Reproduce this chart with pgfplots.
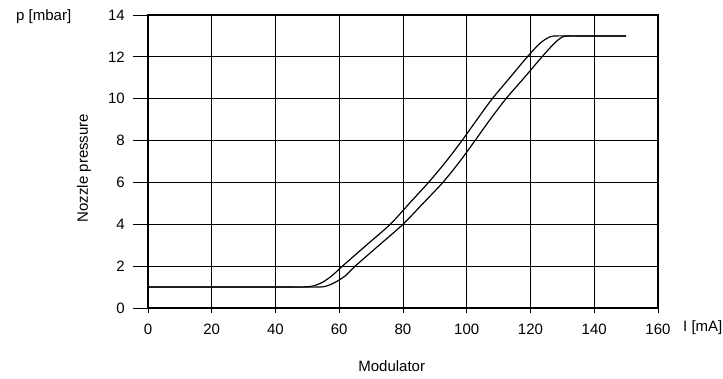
\documentclass[border=0pt]{standalone}
\usepackage{fontspec}
\setmainfont{Liberation Sans}
\usepackage{pgfplots}
\pgfplotsset{compat=1.18}
\begin{document}
\fontsize{15}{18}\selectfont
\begin{tikzpicture}
\path[use as bounding box] (-148pt,-70pt) rectangle (575pt,308pt);
\begin{axis}[
  scale only axis, width=510pt, height=293pt,
  xmin=0, xmax=160, ymin=0, ymax=14,
  xtick={0,20,...,160}, ytick={0,2,...,14},
  grid=major, major grid style={black, line width=0.9pt},
  axis line style={line width=2.6pt},
  tick align=outside, tick pos=left,
  major tick length=5pt,
  tick style={black, line width=0.8pt},
  ticklabel style={font=\fontsize{15}{18}\selectfont},
  /pgf/number format/assume math mode=true,
  xticklabel style={anchor=north, yshift=-6pt},
  yticklabel style={anchor=east, xshift=-13pt},
  clip=false,
]
\addplot[black, line width=1.2pt, smooth, tension=0.5] coordinates {
 (0,1) (40,1) (49,1.01) (52,1.06) (55,1.25) (58,1.58) (61,2) (68.5,3)
 (76,4) (82,5) (88,6) (93.5,7) (98.5,8) (103.2,9) (108,10) (113.5,11) (119,12)
 (123,12.65) (126,12.95) (128,13) (132,13) (150,13)};
\addplot[black, line width=1.2pt, smooth, tension=0.5] coordinates {
 (0,1) (40,1) (53,1) (56,1.05) (59,1.25) (62,1.55) (65,2) (72.5,3)
 (80,4) (86.3,5) (92.5,6) (97.8,7) (102.6,8) (107.3,9) (112.3,10) (118,11) (123.6,12)
 (127.5,12.65) (130,12.95) (132,13) (136,13) (150,13)};
\end{axis}
\foreach \k in {0,...,7} {
  \draw[black, line width=0.9pt] (-15pt,{\k*2*293/14*1pt}) -- (0pt,{\k*2*293/14*1pt});
}
\node[anchor=west] at (-137pt,291pt) {p [mbar]};
\node[rotate=90] at (-64pt,140pt) {Nozzle pressure};
\node[anchor=west, inner sep=0pt] at (535pt,-20pt) {I [mA]};
\node at (243.7pt,-58pt) {Modulator};
\end{tikzpicture}
\end{document}
